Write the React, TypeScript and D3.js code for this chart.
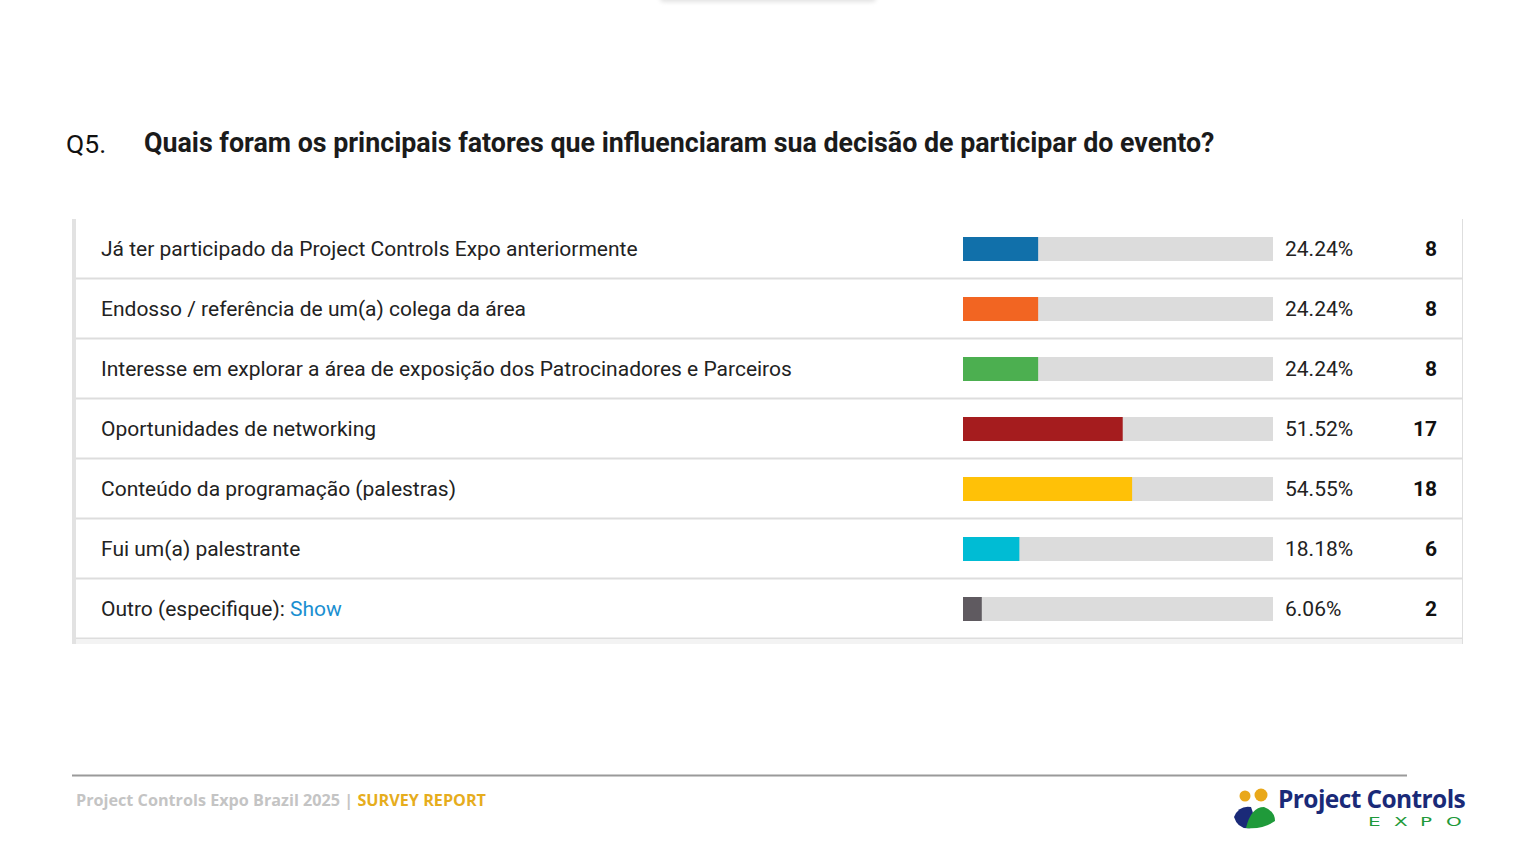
import * as d3 from 'd3';

const categories = [
  'Já ter participado da Project Controls Expo anteriormente',
  'Endosso / referência de um(a) colega da área',
  'Interesse em explorar a área de exposição dos Patrocinadores e Parceiros',
  'Oportunidades de networking',
  'Conteúdo da programação (palestras)',
  'Fui um(a) palestrante',
  'Outro (especifique):',
];
const percents = [24.24, 24.24, 24.24, 51.52, 54.55, 18.18, 6.06];
const counts = [8, 8, 8, 17, 18, 6, 2];
const colors = ['#1170aa', '#f26522', '#4caf50', '#a51c1e', '#ffc107', '#00bcd4', '#5f5a60'];

const W = 1536;
const H = 864;
const font = 'Roboto, sans-serif';

export default function App() {
  // table rows, 60px each
  const tableTop = 219;
  const rowH = 60;
  const y = d3
    .scaleBand<number>()
    .domain(d3.range(categories.length))
    .range([tableTop, tableTop + rowH * categories.length]);

  // horizontal bars: percentage -> track
  const x = d3.scaleLinear().domain([0, 100]).range([963, 1273]);
  const barH = 24;

  return (
    <svg
      width={W}
      height={H}
      style={{ position: 'absolute', left: 0, top: 0, background: '#fff' }}
    >
      <defs>
        <filter id="soft" x="-20%" y="-200%" width="140%" height="500%">
          <feGaussianBlur stdDeviation="2" />
        </filter>
      </defs>
      {/* faint tab shadow at the top */}
      <rect x={660} y={-6} width={216} height={8} rx={4} fill="#e2e2e2" filter="url(#soft)" />

      {/* title */}
      <text x={66} y={153} fontFamily={font} fontSize={26.5} fill="#111">
        Q5.
      </text>
      <text x={144} y={152} fontFamily={font} fontSize={26.8} fontWeight={700} fill="#1b1b1b">
        Quais foram os principais fatores que influenciaram sua decisão de participar do evento?
      </text>

      {/* table frame */}
      <rect x={72} y={tableTop} width={4} height={425} fill="#e2e2e2" />
      <line x1={1462.5} x2={1462.5} y1={tableTop} y2={644} stroke="#dedede" />

      {categories.map((c, i) => {
        const top = y(i)!;
        const cy = top + rowH / 2;
        return (
          <g key={i}>
            <line x1={76} x2={1462} y1={top + rowH - 0.5} y2={top + rowH - 0.5} stroke="#dddddd" strokeWidth={2} />
            <text x={101} y={cy + 7} fontFamily={font} fontSize={21} fill="#222">
              {c}
              {i === categories.length - 1 && <tspan fill="#1a8fd1"> Show</tspan>}
            </text>
            <rect x={x(0)} y={cy - barH / 2} width={x(100) - x(0)} height={barH} fill="#dcdcdc" />
            <rect x={x(0)} y={cy - barH / 2} width={x(percents[i]) - x(0)} height={barH} fill={colors[i]} />
            <text x={1285} y={cy + 7} fontFamily={font} fontSize={21} fill="#222">
              {percents[i].toFixed(2)}%
            </text>
            <text x={1437} y={cy + 7} textAnchor="end" fontFamily={font} fontSize={21} fontWeight={700} fill="#111">
              {counts[i]}
            </text>
          </g>
        );
      })}
      <rect x={76} y={639} width={1386} height={5} fill="#f3f3f3" />

      {/* footer */}
      <line x1={72} x2={1407} y1={775.5} y2={775.5} stroke="#9a9a9a" strokeWidth={2} />
      <text x={76} y={806} fontFamily="'Open Sans', sans-serif" fontSize={16.2} fontWeight={700} fill="#c4c4c4">
        Project Controls Expo Brazil 2025 |{' '}
        <tspan fill="#e6ad1d">SURVEY REPORT</tspan>
      </text>

      {/* logo */}
      <g>
        <circle cx={1245} cy={796} r={5.5} fill="#e9a81a" />
        <circle cx={1261} cy={795} r={6.5} fill="#e9a81a" />
        <path d="M1234,817 Q1239,805 1251,807 Q1256,818 1251,828 Q1238,830 1234,817 Z" fill="#1a2a78" />
        <path d="M1246,828 Q1251,807 1264,807 Q1275,811 1275,821 Q1262,830 1246,828 Z" fill="#1f9a3a" />
        <text x={1278} y={808} fontFamily="'Open Sans', sans-serif" fontSize={24.5} fontWeight={700} fill="#1a2a78" letterSpacing={-0.6}>
          Project Controls
        </text>
        {['E', 'X', 'P', 'O'].map((l, i) => (
          <text
            key={l}
            transform={`translate(${1368 + i * 26},826) scale(1.6,1)`}
            fontFamily="'DejaVu Sans', sans-serif"
            fontSize={12.5}
            fill="#1f9a3a"
          >
            {l}
          </text>
        ))}
      </g>
    </svg>
  );
}
